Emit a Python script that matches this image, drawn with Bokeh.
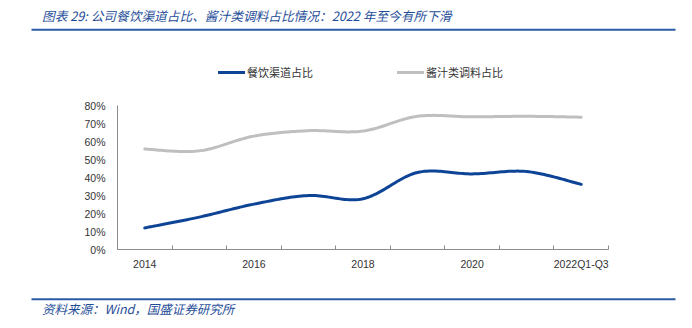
import numpy as np
from bokeh.plotting import figure
from bokeh.models import (Range1d, FixedTicker, PrintfTickFormatter, Legend,
                          LegendItem, Label, BoxAnnotation, LinearAxis)
from bokeh.embed import file_html
from bokeh.resources import INLINE

# ---------------- data ----------------
categories = ["2014", "2015", "2016", "2017", "2018", "2019", "2020", "2021", "2022Q1-Q3"]
catering_share = [12.0, 18.0, 25.2, 30.0, 28.2, 42.8, 42.0, 43.3, 36.2]
sauce_share = [55.8, 54.8, 63.0, 66.0, 65.8, 74.0, 73.7, 74.0, 73.5]
series_names = ["餐饮渠道占比", "酱汁类调料占比"]
y_ticks = [0, 10, 20, 30, 40, 50, 60, 70, 80]
shown_labels = ["2014", "2016", "2018", "2020", "2022Q1-Q3"]
title_text = "图表 29: 公司餐饮渠道占比、酱汁类调料占比情况：2022 年至今有所下滑"
source_text = "资料来源：Wind，国盛证券研究所"

BLUE = "#0E4496"
GREY = "#BFBFBF"
HEAD = "#1F4E99"
RULE = "#2A5CA6"
TXT = "#333333"
AXC = "#8C8C8C"
CJK = "Noto Sans CJK SC"
LAT = "Liberation Sans"

W, H = 692, 328
# plot-area placement (pixels)
AX_L, AX_R, AX_T, AX_B = 117, 608, 105, 249
N = len(categories)
Y_MAX = y_ticks[-1]


def smooth(xs, ys, n=24):
    """Excel-like smoothed line (cubic Bezier through the points)."""
    P = np.column_stack([np.asarray(xs, float), np.asarray(ys, float)])
    m = len(P)
    out = [P[0]]
    t = np.linspace(0, 1, n + 1)[1:, None]
    for i in range(m - 1):
        p0 = P[i - 1] if i > 0 else P[i]
        p3 = P[i + 2] if i + 2 < m else P[i + 1]
        c1 = P[i] + (P[i + 1] - p0) / 6.0
        c2 = P[i + 1] - (p3 - P[i]) / 6.0
        seg = ((1 - t) ** 3) * P[i] + 3 * ((1 - t) ** 2) * t * c1 \
            + 3 * (1 - t) * t ** 2 * c2 + t ** 3 * P[i + 1]
        out.extend(seg)
    out = np.array(out)
    return out[:, 0], out[:, 1]


xpos = [i + 0.5 for i in range(N)]

# frame covers the whole canvas; axes are placed at fixed locations with bounds
kx = (AX_R - AX_L) / N
ky = (AX_B - AX_T) / Y_MAX
x_range = Range1d(-AX_L / kx, N + (W - AX_R) / kx)
y_range = Range1d(-(H - AX_B) / ky, Y_MAX + AX_T / ky)

p = figure(width=W, height=H, output_backend="svg", toolbar_location=None,
           x_range=x_range, y_range=y_range,
           x_axis_location=None, y_axis_location=None,
           min_border=0, min_border_left=0, min_border_right=0,
           min_border_top=0, min_border_bottom=0)
p.outline_line_color = None
p.grid.visible = False
p.background_fill_color = "white"
p.border_fill_color = "white"

bx, by = smooth(xpos, catering_share)
gx, gy = smooth(xpos, sauce_share)
r_grey = p.line(gx, gy, line_width=3, line_color=GREY, line_join="round", line_cap="round")
r_blue = p.line(bx, by, line_width=3, line_color=BLUE, line_join="round", line_cap="round")

# x axis
major = [xpos[categories.index(c)] for c in shown_labels]
xa = LinearAxis(fixed_location=0, bounds=(0, N))
xa.ticker = FixedTicker(ticks=major, minor_ticks=list(range(N + 1)))
xa.major_label_overrides = {xpos[categories.index(c)]: c for c in shown_labels}
xa.major_tick_in = 0
xa.major_tick_out = 0
xa.minor_tick_in = 4
xa.minor_tick_out = 0
xa.minor_tick_line_color = AXC
xa.axis_line_color = AXC
xa.major_label_standoff = 8
xa.major_label_text_font = LAT
xa.major_label_text_font_size = "10.5px"
xa.major_label_text_color = TXT
p.add_layout(xa, "below")

# y axis
ya = LinearAxis(fixed_location=0, bounds=(0, Y_MAX))
ya.ticker = FixedTicker(ticks=y_ticks, minor_ticks=[])
ya.formatter = PrintfTickFormatter(format="%d%%")
ya.major_tick_in = 0
ya.major_tick_out = 0
ya.axis_line_color = AXC
ya.major_label_standoff = 12
ya.major_label_text_font = LAT
ya.major_label_text_font_size = "10.5px"
ya.major_label_text_color = TXT
p.add_layout(ya, "left")

legend = Legend(items=[LegendItem(label=series_names[0], renderers=[r_blue]),
                       LegendItem(label=series_names[1], renderers=[r_grey])],
                orientation="horizontal", location=(218, H - 80),
                glyph_width=27, glyph_height=14, label_height=14,
                label_standoff=2, spacing=84, padding=0, margin=0,
                border_line_color=None, background_fill_alpha=0,
                label_text_font=CJK, label_text_font_size="11px",
                label_text_color=TXT)
p.add_layout(legend)

# header / footer
p.add_layout(Label(x=41.5, y=H - 15, x_units="screen", y_units="screen", text=title_text,
                   text_font=CJK, text_font_style="italic", text_font_size="12.7px",
                   text_color=HEAD, text_baseline="middle"))
p.add_layout(BoxAnnotation(left=31, right=675, bottom=H - 30.3, top=H - 28.3,
                           left_units="screen", right_units="screen",
                           bottom_units="screen", top_units="screen",
                           fill_color=RULE, fill_alpha=1, line_color=None))
p.add_layout(BoxAnnotation(left=31, right=675, bottom=H - 299.7, top=H - 297.7,
                           left_units="screen", right_units="screen",
                           bottom_units="screen", top_units="screen",
                           fill_color=RULE, fill_alpha=1, line_color=None))
p.add_layout(Label(x=41.5, y=H - 308, x_units="screen", y_units="screen", text=source_text,
                   text_font=CJK, text_font_style="italic", text_font_size="12.5px",
                   text_color=HEAD, text_baseline="middle"))

open("out.html", "w").write(file_html(p, INLINE))
